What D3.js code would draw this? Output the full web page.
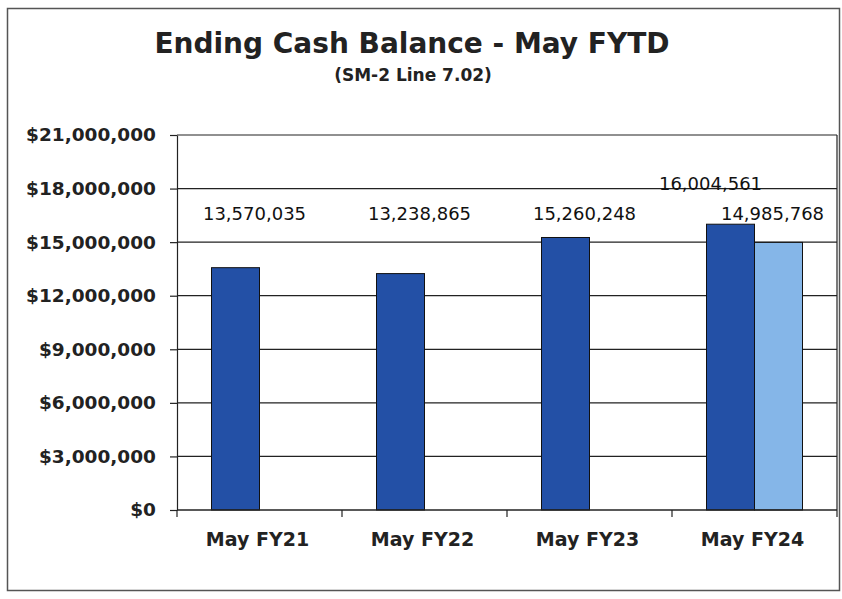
<!DOCTYPE html>
<html>
<head>
<meta charset="utf-8">
<script src="https://cdnjs.cloudflare.com/ajax/libs/d3/7.8.5/d3.min.js"></script>
<style>
  body { margin: 0; background: #fff; }
  svg { display: block; }
</style>
</head>
<body>
<div id="chart"></div>
<script>
// chart values
const categories = ["May FY21", "May FY22", "May FY23", "May FY24"];
const seriesNames = ["prior", "current"];
const priorValues = [13570035, 13238865, 15260248, 16004561];
const currentValues = [null, null, null, 14985768];
const yTicks = [0, 3000000, 6000000, 9000000, 12000000, 15000000, 18000000, 21000000];

const width = 842, height = 599;
const margin = {top: 135, right: 5, bottom: 89, left: 177};
const plotW = width - margin.left - margin.right;
const plotH = height - margin.top - margin.bottom;

const svg = d3.select("#chart").append("svg")
    .attr("width", width)
    .attr("height", height);

// outer frame like the printed page
svg.append("rect")
    .attr("x", 7.5).attr("y", 8.5)
    .attr("width", 832).attr("height", 582)
    .attr("fill", "none")
    .attr("stroke", "#555")
    .attr("stroke-width", 1.5);

svg.append("text")
    .attr("x", 412).attr("y", 53)
    .attr("text-anchor", "middle")
    .style("font-family", "DejaVu Sans")
    .style("font-weight", "bold")
    .style("font-size", "28px")
    .style("fill", "#222")
    .text("Ending Cash Balance - May FYTD");

svg.append("text")
    .attr("x", 413).attr("y", 81)
    .attr("text-anchor", "middle")
    .style("font-family", "DejaVu Sans")
    .style("font-weight", "bold")
    .style("font-size", "17px")
    .style("fill", "#222")
    .text("(SM-2 Line 7.02)");

const g = svg.append("g").attr("transform", `translate(${margin.left},${margin.top})`);

let y = d3.scaleLinear().domain([0, 21000000]).range([plotH, 0]);
let x0 = d3.scaleBand().domain(categories).range([0, plotW]).paddingInner(0).paddingOuter(0);
const barW = 48;
let x1 = d3.scaleBand().domain(seriesNames)
    .range([x0.bandwidth() / 2 - barW, x0.bandwidth() / 2 + barW]);

// gridlines
g.selectAll(".grid")
    .data(yTicks.filter(d => d > 0))
    .enter()
    .append("line")
    .attr("class", "grid")
    .attr("x1", 0).attr("x2", plotW)
    .attr("y1", d => y(d)).attr("y2", d => y(d))
    .attr("stroke", "#222")
    .attr("stroke-width", 1.2);

// right edge of plot area
g.append("line")
    .attr("x1", plotW).attr("x2", plotW)
    .attr("y1", 0).attr("y2", plotH)
    .attr("stroke", "#222")
    .attr("stroke-width", 1.2);

// y axis
let yAxis = d3.axisLeft(y)
    .tickValues(yTicks)
    .tickFormat(d3.format("$,"))
    .tickSizeInner(7)
    .tickSizeOuter(0)
    .tickPadding(14);
let ya = g.append("g").call(yAxis);
ya.selectAll("path, line").attr("stroke", "#222").attr("stroke-width", 1.2);
ya.selectAll("text")
    .style("font-family", "DejaVu Sans")
    .style("font-weight", "bold")
    .style("font-size", "18.5px")
    .style("fill", "#222");

// bars
const rows = categories.map((c, i) => ({cat: c, vals: [priorValues[i], currentValues[i]]}));
const colors = {prior: "#2350a6", current: "#85b6e8"};

let groups = g.selectAll(".grp")
    .data(rows)
    .enter()
    .append("g")
    .attr("class", "grp")
    .attr("transform", d => `translate(${x0(d.cat)},0)`);

groups.selectAll("rect")
    .data(d => seriesNames.map((s, j) => ({s: s, v: d.vals[j]})).filter(e => e.v != null))
    .enter()
    .append("rect")
    .attr("x", d => x1(d.s))
    .attr("width", x1.bandwidth())
    .attr("y", d => y(d.v))
    .attr("height", d => plotH - y(d.v))
    .attr("fill", d => colors[d.s])
    .attr("stroke", "#111")
    .attr("stroke-width", 1);

// value labels: single bars on one row, the paired group split in two rows
groups.each(function(d) {
    const grp = d3.select(this);
    const pair = d.vals[1] != null;
    seriesNames.forEach(function(s, j) {
        const v = d.vals[j];
        if (v == null) return;
        let lx, ly;
        if (!pair) {
            lx = x0.bandwidth() / 2 - 5;
            ly = y(18000000) + 31;
        } else if (j === 0) {
            lx = x1(s) + x1.bandwidth() / 2 - 20;
            ly = y(18000000) + 1;
        } else {
            lx = x1(s) + x1.bandwidth() / 2 - 6;
            ly = y(18000000) + 31;
        }
        grp.append("text")
            .attr("x", lx).attr("y", ly)
            .attr("text-anchor", "middle")
            .style("font-family", "DejaVu Sans")
            .style("font-size", "18px")
            .style("fill", "#111")
            .text(d3.format(",")(v));
    });
});

// x axis with ticks between categories
let xa = g.append("g").attr("transform", `translate(0,${plotH})`);
xa.append("line")
    .attr("x1", 0).attr("x2", plotW)
    .attr("stroke", "#222").attr("stroke-width", 1.4);
xa.selectAll(".xt")
    .data(categories.concat([null]))
    .enter()
    .append("line")
    .attr("class", "xt")
    .attr("x1", (d, i) => i * x0.bandwidth())
    .attr("x2", (d, i) => i * x0.bandwidth())
    .attr("y1", 0).attr("y2", 7)
    .attr("stroke", "#222").attr("stroke-width", 1.2);
xa.selectAll(".xl")
    .data(categories)
    .enter()
    .append("text")
    .attr("class", "xl")
    .attr("x", d => x0(d) + x0.bandwidth() / 2 - 2)
    .attr("y", 36)
    .attr("text-anchor", "middle")
    .style("font-family", "DejaVu Sans")
    .style("font-weight", "bold")
    .style("font-size", "19px")
    .style("fill", "#222")
    .text(d => d);
</script>
</body>
</html>
